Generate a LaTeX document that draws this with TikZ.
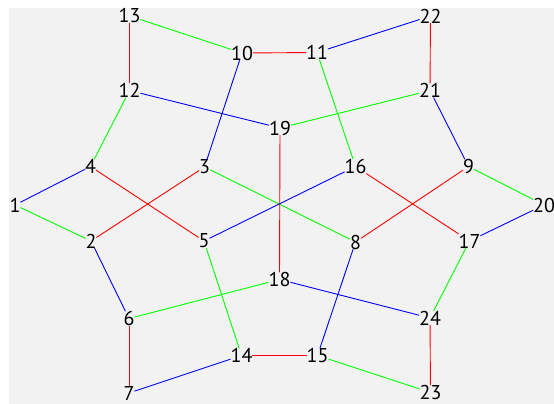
\documentclass[tikz,border=0pt]{standalone}
\usepackage{fontspec}
\setmainfont{PT Sans}
\begin{document}
\begin{tikzpicture}[x=1pt,y=-1pt,
  lbl/.style={inner sep=0pt, outer sep=0pt, font=\fontsize{20}{20}\selectfont},
  ered/.style={draw=red, line width=0.9pt},
  egreen/.style={draw=green, line width=0.9pt},
  eblue/.style={draw=blue, line width=0.9pt}]
\useasboundingbox (0,0) rectangle (554,404);
\clip (0,0) rectangle (554,404);
\fill[black!5] (9,8) rectangle (554,404);
\node[lbl] (n1) at (15,205) {1};
\node[lbl] (n2) at (91,241) {2};
\node[lbl] (n3) at (204.5,167) {3};
\node[lbl] (n4) at (90.5,166.5) {4};
\node[lbl] (n5) at (204,241) {5};
\node[lbl] (n6) at (129,318.5) {6};
\node[lbl] (n7) at (129,393) {7};
\node[lbl] (n8) at (355.5,242) {8};
\node[lbl] (n9) at (468.5,166.5) {9};
\node[lbl] (n10) at (242,53) {10};
\node[lbl] (n11) at (317,52.5) {11};
\node[lbl] (n12) at (129.5,90.5) {12};
\node[lbl] (n13) at (129.5,16) {13};
\node[lbl] (n14) at (241.5,355.5) {14};
\node[lbl] (n15) at (317.5,355.5) {15};
\node[lbl] (n16) at (355.5,166.5) {16};
\node[lbl] (n17) at (469.5,241) {17};
\node[lbl] (n18) at (279.5,279.5) {18};
\node[lbl] (n19) at (280,128) {19};
\node[lbl] (n20) at (544,205) {20};
\node[lbl] (n21) at (430,90.5) {21};
\node[lbl] (n22) at (430.5,16) {22};
\node[lbl] (n23) at (430.5,392.5) {23};
\node[lbl] (n24) at (430,318) {24};
\draw[egreen] (n13) -- (n10);
\draw[ered] (n10) -- (n11);
\draw[eblue] (n11) -- (n22);
\draw[ered] (n22) -- (n21);
\draw[ered] (n13) -- (n12);
\draw[eblue] (n12) -- (n19);
\draw[egreen] (n19) -- (n21);
\draw[egreen] (n12) -- (n4);
\draw[eblue] (n10) -- (n3);
\draw[egreen] (n11) -- (n16);
\draw[eblue] (n21) -- (n9);
\draw[eblue] (n4) -- (n1);
\draw[egreen] (n1) -- (n2);
\draw[ered] (n4) -- (n5);
\draw[ered] (n3) -- (n2);
\draw[egreen] (n3) -- (n8);
\draw[eblue] (n16) -- (n5);
\draw[ered] (n16) -- (n17);
\draw[ered] (n9) -- (n8);
\draw[egreen] (n9) -- (n20);
\draw[eblue] (n20) -- (n17);
\draw[ered] (n19) -- (n18);
\draw[eblue] (n2) -- (n6);
\draw[egreen] (n5) -- (n14);
\draw[egreen] (n6) -- (n18);
\draw[ered] (n6) -- (n7);
\draw[eblue] (n7) -- (n14);
\draw[ered] (n14) -- (n15);
\draw[egreen] (n15) -- (n23);
\draw[eblue] (n18) -- (n24);
\draw[eblue] (n8) -- (n15);
\draw[egreen] (n17) -- (n24);
\draw[ered] (n24) -- (n23);
\end{tikzpicture}
\end{document}
